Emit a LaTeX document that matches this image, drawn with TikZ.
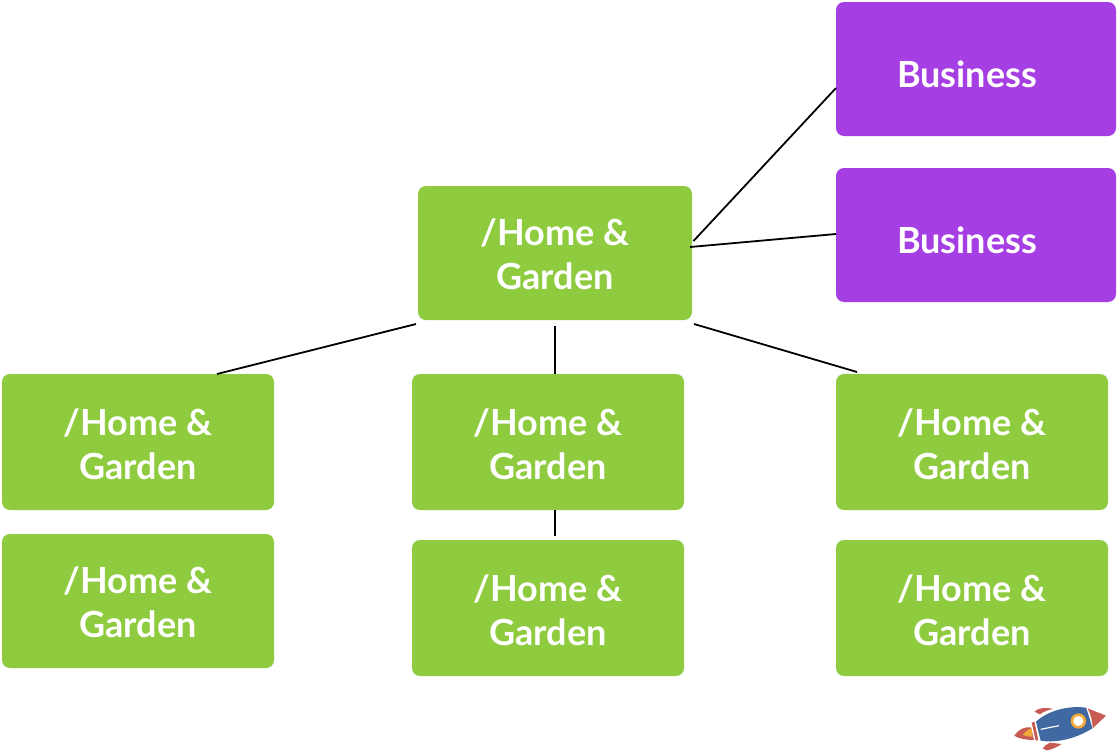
\documentclass[tikz,border=0pt]{standalone}
\usepackage{fontspec}
\setmainfont{Lato}
\usetikzlibrary{calc, positioning}
\definecolor{leafgreen}{HTML}{8FCB3F}
\definecolor{bizpurple}{HTML}{A53FE3}
\definecolor{rocketblue}{HTML}{3F69A0}
\definecolor{rocketred}{HTML}{C85C54}
\definecolor{rocketorange}{HTML}{F0A93A}
\tikzset{
  pagebox/.style={rectangle, rounded corners=8pt, inner sep=0pt, align=center, text=white,
    font=\fontsize{36}{44}\selectfont\bfseries},
  homebox/.style={pagebox, fill=leafgreen, minimum width=272pt},
  bizbox/.style={pagebox, fill=bizpurple, minimum width=280pt, minimum height=134pt},
  link/.style={draw=black, line width=1.8pt}
}
\begin{document}
\begin{tikzpicture}[x=1pt, y=-1pt]
\useasboundingbox (0, 0) rectangle (1118, 750);

\node[homebox, minimum width=274pt, minimum height=134pt] (hub) at (555, 253) {\rule{0pt}{30pt}/Home \&\\Garden};
\foreach \name/\px/\py/\boxh/\lift in {topL/138/442/136/32, topM/548/442/136/32, topR/972/442/136/32,
    lowL/138/601/134/30, lowM/548/608/136/32, lowR/972/608/136/32} {
  \node[homebox, minimum height=\boxh pt] (\name) at (\px, \py) {\rule{0pt}{\lift pt}/Home \&\\Garden};
}
\node[bizbox] (bizA) at (976, 69) {\rule{0pt}{38pt}Business\hspace*{18pt}};
\node[bizbox] (bizB) at (976, 235) {\rule{0pt}{38pt}Business\hspace*{18pt}};

% free ends stop short of the boxes
\coordinate (hubNE) at (693.5, 241);
\coordinate (hubE) at (690, 247);
\coordinate (hubSW) at (416, 324);
\coordinate (hubS) at (555, 326);
\coordinate (hubSE) at (694, 324);
\coordinate (topLtop) at (217, 374);
\coordinate (topMtop) at (555, 374);
\coordinate (topRtop) at (857, 372);
\coordinate (topMlow) at (555, 510);
\coordinate (lowMtop) at (555, 536);
\coordinate (bizAleft) at (836, 88);
\coordinate (bizBleft) at (836, 234);

\draw[link] (hubNE) -- (bizAleft);
\draw[link] (hubE) -- (bizBleft);
\draw[link] (hubSW) -- (topLtop);
\draw[link] (hubS) -- (topMtop);
\draw[link] (hubSE) -- (topRtop);
\draw[link] (topMlow) -- (lowMtop);

% rocket
\begin{scope}[shift={(1000, 695)}, x=0.3333pt, y=-0.3333pt]
\fill[rocketred] (263, 40) -- (318, 62) -- (278, 100) .. controls (278, 80) and (272, 58) .. cycle;
\fill[rocketblue] (108, 80) .. controls (140, 50) and (200, 30) .. (258, 38)
  .. controls (266, 60) and (272, 80) .. (277, 100)
  .. controls (230, 130) and (170, 145) .. (122, 137) -- cycle;
\fill[rocketred] (95, 83) -- (103, 80) -- (115, 135) -- (107, 137) -- cycle;
\fill[rocketred] (43, 122) .. controls (55, 102) and (75, 95) .. (93, 97)
  -- (102, 135) .. controls (80, 135) and (58, 132) .. cycle;
\fill[rocketorange] (68, 120) .. controls (75, 110) and (85, 103) .. (95, 100)
  -- (98, 125) .. controls (88, 125) and (78, 124) .. cycle;
\fill[rocketred] (103, 50) .. controls (115, 38) and (140, 36) .. (160, 42)
  .. controls (145, 44) and (130, 50) .. (120, 58) -- cycle;
\fill[rocketred] (128, 160) .. controls (135, 152) and (140, 147) .. (150, 143)
  -- (185, 147) .. controls (170, 158) and (150, 165) .. (140, 166) -- cycle;
\fill[rocketorange] (235, 78) circle (23);
\fill[white] (235, 78) circle (15);
\draw[white, line width=1.2pt] (122, 103) -- (177, 92);
\end{scope}
\end{tikzpicture}
\end{document}
